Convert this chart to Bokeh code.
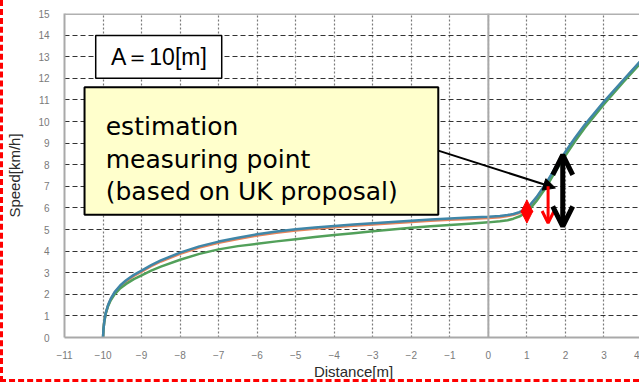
from bokeh.plotting import figure
from bokeh.models import (Range1d, FixedTicker, Span, BoxAnnotation, Label,
                          Arrow, OpenHead, NormalHead)
from bokeh.embed import file_html
from bokeh.resources import INLINE

# Distance from the reference line [m], shared by all three runs
distance = [-10.0, -9.99, -9.97, -9.93, -9.87, -9.8, -9.7, -9.55, -9.4, -9.2,
            -9.0, -8.75, -8.5, -8.0, -7.5, -7.0, -6.5, -6.0, -5.5, -5.0,
            -4.5, -4.0, -3.5, -3.0, -2.5, -2.0, -1.5, -1.0, -0.5, 0.0,
            0.3, 0.5, 0.65, 0.8, 0.9, 1.0, 1.1, 1.25, 1.5, 1.75,
            2.0, 2.25, 2.5, 3.0, 3.5, 4.0]

# Vehicle speed [km/h] for each run
speed_blue = [0.0, 0.35, 0.7, 1.14, 1.5, 1.8, 2.1, 2.42, 2.65, 2.9,
              3.1, 3.35, 3.57, 3.93, 4.22, 4.44, 4.62, 4.78, 4.91, 5.01,
              5.09, 5.16, 5.23, 5.29, 5.35, 5.41, 5.46, 5.51, 5.55, 5.59,
              5.63, 5.67, 5.72, 5.8, 5.88, 6.0, 6.18, 6.5, 7.15, 7.9,
              8.6, 9.25, 9.85, 10.92, 11.92, 12.9]
speed_orange = [0.0, 0.35, 0.7, 1.12, 1.48, 1.77, 2.07, 2.38, 2.6, 2.85,
                3.05, 3.3, 3.52, 3.87, 4.16, 4.38, 4.56, 4.72, 4.85, 4.95,
                5.03, 5.1, 5.17, 5.23, 5.29, 5.35, 5.4, 5.45, 5.49, 5.53,
                5.57, 5.62, 5.68, 5.76, 5.85, 5.97, 6.15, 6.47, 7.1, 7.85,
                8.55, 9.2, 9.8, 10.88, 11.89, 12.88]
speed_green = [0.0, 0.35, 0.7, 1.12, 1.45, 1.72, 2.0, 2.28, 2.48, 2.7,
               2.88, 3.1, 3.28, 3.6, 3.87, 4.08, 4.23, 4.34, 4.45, 4.55,
               4.65, 4.74, 4.83, 4.92, 5.0, 5.08, 5.15, 5.21, 5.27, 5.33,
               5.38, 5.43, 5.5, 5.6, 5.7, 5.83, 6.0, 6.32, 6.95, 7.72,
               8.42, 9.08, 9.7, 10.8, 11.82, 12.8]

x_ticks = list(range(-11, 5))
x_tick_labels = ["\u221211", "\u221210", "\u22129", "\u22128", "\u22127", "\u22126",
                 "\u22125", "\u22124", "\u22123", "\u22122", "\u22121",
                 "0", "1", "2", "3", "4"]
y_ticks = list(range(0, 16))

# Measuring-point markers (distance [m], speed range [km/h])
red_double_x, red_double_y = 1.0, (5.3, 6.37)
red_arrow_x, red_arrow_y = 1.55, (7.0, 5.3)
black_arrow_x, black_arrow_y = 1.93, (5.14, 8.45)

p = figure(width=639, height=382, output_backend="svg", toolbar_location=None,
           x_range=Range1d(-11, 4), y_range=Range1d(0, 15),
           min_border_left=59, min_border_right=0, min_border_top=13,
           min_border_bottom=41, background_fill_color="white",
           border_fill_color="white", outline_line_color=None)

# dashed red page border on the left and bottom edges
p.styles = {"border-left": "3px dashed #ff0000",
            "border-bottom": "3px dashed #ff0000"}

# axes
for ax in (p.xaxis[0], p.yaxis[0]):
    ax.axis_line_color = "#a9a9a9"
    ax.axis_line_width = 2
    ax.major_tick_line_color = None
    ax.minor_tick_line_color = None
    ax.major_label_text_font = "Liberation Sans"
    ax.major_label_text_font_size = "10px"
    ax.major_label_text_color = "#7a7a7a"
    ax.axis_label_text_font = "Liberation Sans"
    ax.axis_label_text_font_size = "15px"
    ax.axis_label_text_font_style = "normal"
    ax.axis_label_text_color = "#2a2a2a"

p.xaxis.ticker = FixedTicker(ticks=x_ticks)
p.xaxis.major_label_overrides = dict(zip(x_ticks, x_tick_labels))
p.xaxis.major_label_standoff = 7
p.xaxis.axis_label = "Distance[m]"
p.xaxis.axis_label_standoff = 1

p.yaxis.ticker = FixedTicker(ticks=y_ticks)
p.yaxis.major_label_standoff = 9
p.yaxis.axis_label = "Speed[km/h]"
p.yaxis.axis_label_standoff = 12

# grid
p.xgrid.ticker = FixedTicker(ticks=x_ticks)
p.xgrid.grid_line_color = "#7a7a7a"
p.xgrid.grid_line_dash = "2 2"
p.xgrid.grid_line_width = 1.2
p.ygrid.ticker = FixedTicker(ticks=y_ticks)
p.ygrid.grid_line_color = "#333333"
p.ygrid.grid_line_dash = "5 3"
p.ygrid.grid_line_width = 1.2

p.add_layout(Span(location=0, dimension="height", line_color="#a9a9a9", line_width=2))
p.add_layout(Span(location=15, dimension="width", line_color="#b0b0b0", line_width=3))

# speed curves
p.line(distance, speed_orange, line_color="#e8845a", line_width=2.5)
p.line(distance, speed_green, line_color="#52a05a", line_width=2.5)
p.line(distance, speed_blue, line_color="#3f86a8", line_width=2.5)

# case label
p.add_layout(BoxAnnotation(left=-10.19, right=-6.92, bottom=12.0, top=13.98,
                           fill_color="white", fill_alpha=1,
                           line_color="black", line_alpha=1, line_width=1.5))
p.add_layout(Label(x=-8.55, y=13.0, text="A\uff1d10[m]", text_align="center",
                   text_baseline="middle", text_font="Liberation Sans",
                   text_font_size="23px", text_color="black"))

# callout
p.add_layout(BoxAnnotation(left=-10.48, right=-1.30, bottom=5.68, top=11.58,
                           fill_color="#ffffcc", fill_alpha=1,
                           line_color="black", line_alpha=1, line_width=2))
for txt, yb in (("estimation", 9.78), ("measuring point", 8.26),
                ("(based on UK proposal)", 6.74)):
    p.add_layout(Label(x=-9.93, y=yb, text=txt, text_align="left",
                       text_baseline="alphabetic", text_font="DejaVu Sans",
                       text_font_size="25px", text_color="black"))

p.add_layout(Arrow(x_start=-1.30, y_start=8.65, x_end=1.74, y_end=6.92,
                   line_color="black", line_width=2,
                   end=NormalHead(size=12, fill_color="black", line_color="black")))

# measuring-point arrows
p.add_layout(Arrow(x_start=red_double_x, y_start=red_double_y[0],
                   x_end=red_double_x, y_end=red_double_y[1],
                   line_color="red", line_width=2.5,
                   start=NormalHead(size=12, fill_color="red", line_color="red"),
                   end=NormalHead(size=12, fill_color="red", line_color="red")))
p.add_layout(Arrow(x_start=red_arrow_x, y_start=red_arrow_y[0],
                   x_end=red_arrow_x, y_end=red_arrow_y[1],
                   line_color="red", line_width=3,
                   end=OpenHead(size=12, line_color="red", line_width=3)))
p.add_layout(Arrow(x_start=black_arrow_x, y_start=black_arrow_y[0],
                   x_end=black_arrow_x, y_end=black_arrow_y[1],
                   line_color="black", line_width=5,
                   start=OpenHead(size=20, line_color="black", line_width=5),
                   end=OpenHead(size=20, line_color="black", line_width=5)))

open("out.html", "w").write(file_html(p, INLINE))
